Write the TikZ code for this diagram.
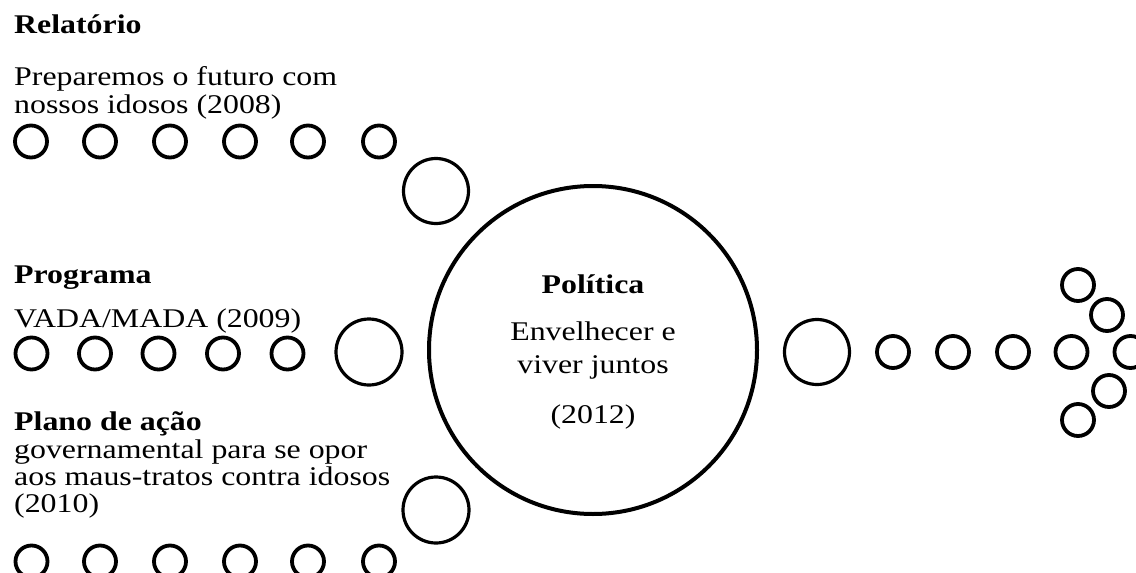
\documentclass[tikz,border=0pt]{standalone}
\usepackage{fontspec}
\setmainfont{Liberation Serif}[FakeStretch=1.18]
\begin{document}
\begin{tikzpicture}[x=1pt,y=-1pt,
  txt/.style={anchor=base west,inner sep=0pt,font=\fontsize{27}{27}\selectfont},
  btxt/.style={txt,font=\fontsize{27}{27}\selectfont\bfseries},
  ctxt/.style={anchor=base,inner sep=0pt,font=\fontsize{27}{27}\selectfont},
  bctxt/.style={ctxt,font=\fontsize{27}{27}\selectfont\bfseries},
  dot/.style={line width=3.8pt},
  mid/.style={line width=3.2pt},
  big/.style={line width=4pt}]
\useasboundingbox (0,0) rectangle (1136,573);
% texts left
\node[btxt] (t1) at (14,33) {Relatório};
\node[txt] (t1a) at (14,85) {Preparemos o futuro com};
\node[txt] (t1b) at (14,113) {nossos idosos (2008)};
\node[btxt] (t2) at (14,283) {Programa};
\node[txt] (t2a) at (14,327) {VADA/MADA (2009)};
\node[btxt] (t3) at (14,430) {Plano de ação};
\node[txt] (t3a) at (14,458) {governamental para se opor};
\node[txt] (t3b) at (14,485) {aos maus-tratos contra idosos};
\node[txt] (t3c) at (14,512) {(2010)};
% big circle
\draw[big] (593,350) circle (164);
\node[bctxt] (p1) at (593,293) {Política};
\node[ctxt] (p2) at (593,340) {Envelhecer e};
\node[ctxt] (p3) at (593,373) {viver juntos};
\node[ctxt] (p4) at (593,423) {(2012)};
% top row
\foreach \x in {31,100,170,240,308,379} \draw[dot] (\x,141.5) circle (16);
\draw[mid] (436,191) circle (32.5);
% middle row
\foreach \x in {31.5,95,158.5,223,287.5} \draw[dot] (\x,353.5) circle (16);
\draw[mid] (369,352) circle (33);
% bottom row
\foreach \x in {31.5,100,170,240,308,379} \draw[dot] (\x,561.5) circle (16);
\draw[mid] (436,510) circle (33);
% right side
\draw[mid] (817,352) circle (32.5);
\foreach \x in {893,953,1013,1071.5,1130.5} \draw[dot] (\x,352) circle (16);
\draw[dot] (1078,285) circle (16);
\draw[dot] (1107,315) circle (16);
\draw[dot] (1109,391) circle (16);
\draw[dot] (1078,420) circle (16);
\end{tikzpicture}
\end{document}
